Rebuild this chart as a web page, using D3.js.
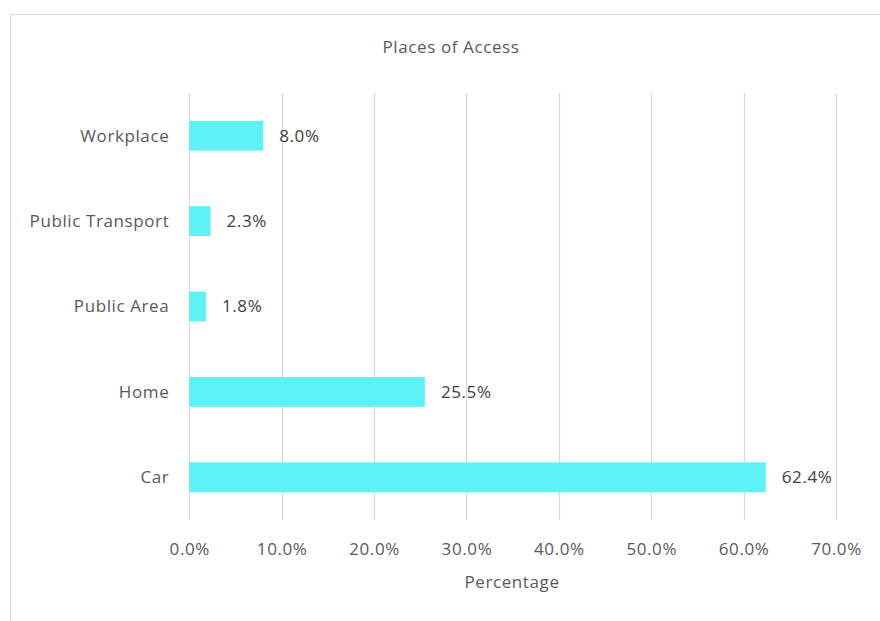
<!DOCTYPE html>
<html>
<head>
<meta charset="utf-8">
<script src="https://cdn.jsdelivr.net/npm/d3@7"></script>
<style>
  html, body { margin: 0; padding: 0; background: #fff; }
  svg { display: block; }
  text { font-family: "Open Sans", "Noto Sans", sans-serif; letter-spacing: 0.6px; }
</style>
</head>
<body>
<svg id="chart" width="880" height="621"></svg>
<script>
// Places where access happened, share of responses (%)
const categories = ["Workplace", "Public Transport", "Public Area", "Home", "Car"];
const values = [8.0, 2.3, 1.8, 25.5, 62.4];
const tickValues = [0, 10, 20, 30, 40, 50, 60, 70];

const svg = d3.select("#chart");
const W = 880, H = 621;
const FS = 17;

// chart frame
svg.append("rect")
  .attr("x", 10.5).attr("y", 14.5)
  .attr("width", W + 20).attr("height", H + 20)
  .attr("fill", "#fff").attr("stroke", "#d9d9d9").attr("stroke-width", 1);

const plot = { left: 189.3, right: 836, top: 93, bottom: 520 };

const x = d3.scaleLinear().domain([0, 70]).range([plot.left, plot.right]);
const y = d3.scaleBand().domain(categories).range([plot.top, plot.bottom]).paddingInner(0.65).paddingOuter(0.325);

// vertical gridlines
svg.append("g").selectAll("line").data(tickValues).join("line")
  .attr("x1", d => Math.round(x(d)) + 0.5).attr("x2", d => Math.round(x(d)) + 0.5)
  .attr("y1", plot.top).attr("y2", plot.bottom)
  .attr("stroke", "#d9d9d9").attr("stroke-width", 1.3);

// x axis tick labels
const xAxis = d3.axisBottom(x).tickValues(tickValues).tickSize(0).tickPadding(0)
  .tickFormat(d => d.toFixed(1) + "%");
const gx = svg.append("g").attr("transform", `translate(0,${plot.bottom + 35})`).call(xAxis);
gx.select(".domain").remove();
gx.selectAll("text").attr("fill", "#595959").attr("font-size", FS).attr("dy", 0)
  .style("font-family", null);

// y axis category labels
const yAxis = d3.axisLeft(y).tickSize(0).tickPadding(20);
const gy = svg.append("g").attr("transform", `translate(${plot.left},0)`).call(yAxis);
gy.select(".domain").remove();
gy.selectAll("text").attr("fill", "#595959").attr("font-size", FS).attr("dy", "0.35em");

// bars
svg.append("g").selectAll("rect").data(values).join("rect")
  .attr("x", x(0))
  .attr("y", (d, i) => y(categories[i]))
  .attr("width", d => x(d) - x(0))
  .attr("height", y.bandwidth())
  .attr("fill", "#5ef1f6");

// value labels
svg.append("g").selectAll("text").data(values).join("text")
  .attr("x", d => x(d) + 16)
  .attr("y", (d, i) => y(categories[i]) + y.bandwidth() / 2)
  .attr("dy", "0.35em")
  .attr("fill", "#404040").attr("font-size", FS)
  .text(d => d.toFixed(1) + "%");

// title
svg.append("text").attr("x", 451).attr("y", 53).attr("text-anchor", "middle")
  .attr("fill", "#595959").attr("font-size", FS).text("Places of Access");

// x axis title
svg.append("text").attr("x", 512).attr("y", 588).attr("text-anchor", "middle")
  .attr("fill", "#595959").attr("font-size", FS).text("Percentage");
</script>
</body>
</html>
